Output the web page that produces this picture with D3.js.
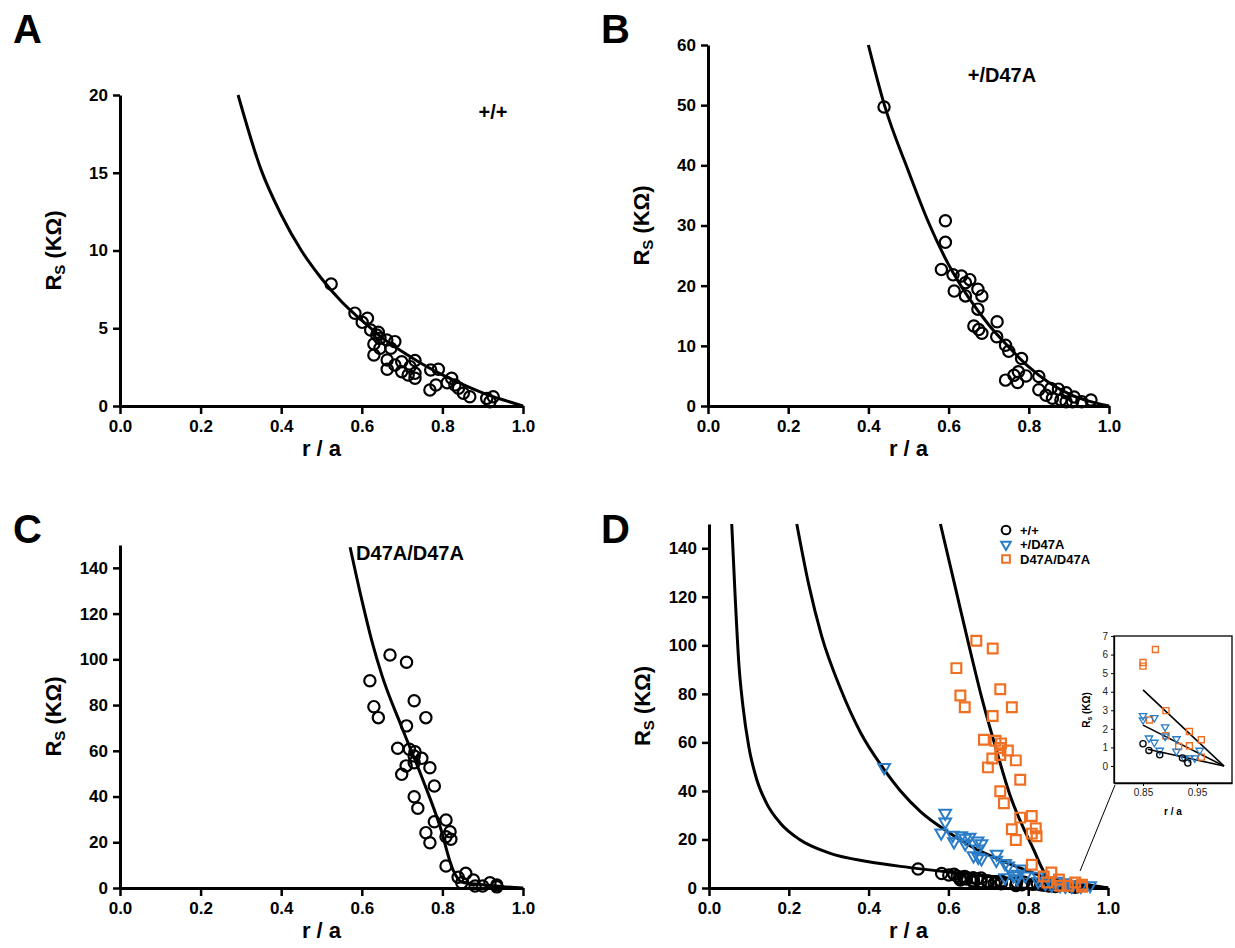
<!DOCTYPE html>
<html>
<head>
<meta charset="utf-8">
<script src="https://cdn.jsdelivr.net/npm/d3@7"></script>
<style>
  body { margin: 0; background: #fff; }
  svg text { font-family: "Liberation Sans", Arial, sans-serif; }
</style>
</head>
<body>
<script>
(function () {
  'use strict';

  // ---- data ----
  const genotypes = ['+/+', '+/D47A', 'D47A/D47A'];
  const panelLetters = ['A', 'B', 'C', 'D'];

  const xTicks = [0, 0.2, 0.4, 0.6, 0.8, 1.0];
  const yTicksA = [0, 5, 10, 15, 20];
  const yTicksB = [0, 10, 20, 30, 40, 50, 60];
  const yTicksC = [0, 20, 40, 60, 80, 100, 120, 140];
  const insetXTicks = [0.85, 0.95];
  const insetYTicks = [0, 1, 2, 3, 4, 5, 6, 7];

  // +/+  (r/a, Rs in kOhm)
  const wtPoints = [
    [0.524, 7.85], [0.583, 5.97], [0.614, 5.64], [0.601, 5.38], [0.622, 4.89],
    [0.641, 4.74], [0.637, 4.57], [0.645, 4.35], [0.630, 3.99], [0.662, 4.24],
    [0.682, 4.14], [0.630, 3.28], [0.672, 3.71], [0.645, 3.71], [0.663, 2.96],
    [0.663, 2.36], [0.682, 2.64], [0.699, 2.85], [0.732, 2.92], [0.699, 2.21],
    [0.720, 2.53], [0.715, 1.99], [0.732, 1.78], [0.732, 2.10], [0.771, 2.32],
    [0.790, 2.36], [0.769, 1.03], [0.784, 1.35], [0.823, 1.78], [0.812, 1.50],
    [0.831, 1.35], [0.840, 1.14], [0.852, 0.82], [0.868, 0.60], [0.910, 0.49],
    [0.926, 0.60], [0.918, 0.28]
  ];
  // +/D47A
  const hetPoints = [
    [0.439, 49.7], [0.592, 30.8], [0.592, 27.2], [0.582, 22.7], [0.611, 21.8],
    [0.632, 21.6], [0.653, 21.0], [0.642, 20.5], [0.614, 19.1], [0.673, 19.4],
    [0.683, 18.3], [0.642, 18.3], [0.673, 16.1], [0.721, 14.0], [0.663, 13.3],
    [0.675, 12.7], [0.683, 12.1], [0.720, 11.5], [0.742, 10.1], [0.750, 9.1],
    [0.782, 7.9], [0.742, 4.3], [0.763, 5.1], [0.774, 5.7], [0.772, 3.9],
    [0.793, 5.0], [0.825, 4.9], [0.825, 2.7], [0.843, 1.8], [0.855, 2.9],
    [0.874, 2.8], [0.893, 2.2], [0.859, 1.3], [0.880, 1.0], [0.913, 1.5],
    [0.909, 0.7], [0.932, 0.7], [0.955, 1.0], [0.893, 0.7]
  ];
  // D47A/D47A
  const homPoints = [
    [0.670, 101.9], [0.711, 98.7], [0.620, 90.6], [0.730, 81.9], [0.630, 79.3],
    [0.641, 74.5], [0.759, 74.5], [0.711, 70.9], [0.689, 61.1], [0.718, 60.7],
    [0.732, 59.6], [0.730, 57.7], [0.749, 56.7], [0.710, 53.4], [0.730, 54.8],
    [0.769, 52.6], [0.699, 49.7], [0.780, 44.6], [0.730, 39.9], [0.739, 34.9],
    [0.809, 29.7], [0.780, 29.0], [0.759, 24.2], [0.819, 24.6], [0.809, 22.4],
    [0.821, 21.3], [0.769, 19.8], [0.809, 9.6], [0.839, 4.7], [0.858, 6.4],
    [0.848, 2.3], [0.877, 3.5], [0.900, 0.9], [0.918, 2.3], [0.935, 1.3],
    [0.935, 0.5], [0.881, 0.9]
  ];

  // fitted curves as drawn in A, B, C
  const wtFit = [[0.293, 20], [0.35, 15.2], [0.4, 12.3], [0.45, 10.0], [0.5, 8.2], [0.55, 6.7],
    [0.6, 5.5], [0.65, 4.4], [0.7, 3.5], [0.75, 2.7], [0.8, 2.0], [0.85, 1.4], [0.9, 0.85],
    [0.95, 0.4], [1.0, 0]];
  const hetFit = [[0.4, 60], [0.44, 50], [0.5, 39], [0.55, 30.5], [0.6, 23.5], [0.65, 18],
    [0.7, 13.5], [0.75, 9.8], [0.8, 6.5], [0.85, 3.9], [0.9, 2.0], [0.95, 0.8], [1.0, 0]];
  const homFit = [[0.571, 149], [0.6, 126], [0.625, 108], [0.65, 93], [0.7, 70], [0.75, 48],
    [0.794, 27], [0.826, 8], [0.848, 2.6], [0.9, 1.4], [0.95, 0.6], [1.0, 0]];

  // fitted curves as drawn in D
  const wtFitD = [[0.057, 150], [0.065, 122], [0.075, 92], [0.085, 75], [0.1, 58], [0.12, 44.5],
    [0.144, 35], [0.18, 26.5], [0.227, 20], [0.3, 14.5], [0.4, 10.8], [0.5, 8.5], [0.6, 6.6],
    [0.7, 4.9], [0.8, 3.2], [0.9, 1.5], [1.0, 0]];
  const hetFitD = [[0.22, 150], [0.25, 125], [0.282, 104], [0.33, 82], [0.38, 64], [0.436, 49.5],
    [0.48, 40], [0.53, 31.5], [0.6, 23], [0.67, 16], [0.73, 11.5], [0.8, 7], [0.86, 3.3],
    [0.93, 1.2], [1.0, 0]];
  const homFitD = [[0.58, 150], [0.62, 122], [0.65, 101], [0.685, 77.5], [0.72, 57], [0.756, 37.5],
    [0.79, 24], [0.814, 15.7], [0.835, 8], [0.85, 4.1], [0.9, 2.7], [0.95, 1.3], [1.0, 0]];

  // inset (zoom on r/a > 0.85)
  const insetWt = [[0.85, 1.2], [0.861, 0.84], [0.881, 0.6], [0.923, 0.43], [0.933, 0.16]];
  const insetHet = [[0.85, 2.71], [0.85, 2.48], [0.871, 2.6], [0.861, 1.5], [0.871, 1.27],
    [0.881, 0.84], [0.891, 2.1], [0.891, 1.6], [0.912, 1.46], [0.912, 0.79], [0.936, 0.43],
    [0.946, 0.43], [0.955, 0.84], [0.926, 0.43]];
  const insetHom = [[0.85, 5.57], [0.85, 5.38], [0.873, 6.27], [0.862, 2.48], [0.8925, 2.98],
    [0.8925, 1.63], [0.916, 1.05], [0.936, 1.86], [0.936, 1.09], [0.958, 1.41], [0.958, 0.48]];
  const insetWtFit = [[0.859, 0.9], [1.0, 0]];
  const insetHetFit = [[0.85, 2.2], [1.0, 0]];
  const insetHomFit = [[0.85, 4.1], [1.0, 0]];
  const calloutFrom = [0.93, 7];

  // ---- drawing ----
  const BLUE = '#2a7cc7';
  const ORANGE = '#f07023';
  const FONT = '"Liberation Sans", Arial, sans-serif';

  const svg = d3.select('body')
    .append('svg')
    .attr('width', 1235)
    .attr('height', 948);

  function styleAxis(sel, size) {
    sel.attr('font-family', FONT).attr('font-size', size).attr('font-weight', 'bold');
    sel.select('.domain').attr('stroke', '#000').attr('stroke-width', 3);
    sel.selectAll('.tick line').attr('stroke', '#000').attr('stroke-width', 2.5);
    sel.selectAll('.tick text').attr('fill', '#000');
  }

  function yTitle(g, cx, cy, size, sub) {
    const t = g.append('text')
      .attr('transform', `translate(${cx},${cy}) rotate(-90)`)
      .attr('text-anchor', 'middle')
      .attr('font-size', size)
      .attr('font-weight', 'bold');
    t.append('tspan').text('R');
    t.append('tspan').attr('font-size', size * 0.68).attr('dy', size * 0.2).text(sub);
    t.append('tspan').attr('dy', -size * 0.2).text(' (KΩ)');
  }

  function drawPanel(p) {
    const x = d3.scaleLinear().domain([0, 1]).range(p.xr);
    const y = d3.scaleLinear().domain([0, p.ymax]).range(p.yr);
    const g = svg.append('g');

    g.append('g')
      .attr('transform', `translate(0,${p.yr[0]})`)
      .call(d3.axisBottom(x).tickValues(xTicks).tickFormat(d3.format('.1f'))
        .tickSize(8).tickSizeOuter(0).tickPadding(6))
      .call(s => styleAxis(s, 17));

    g.append('g')
      .attr('transform', `translate(${p.xr[0]},0)`)
      .call(d3.axisLeft(y).tickValues(p.yTicks).tickFormat(d3.format('d'))
        .tickSize(7).tickSizeOuter(0).tickPadding(5))
      .call(s => styleAxis(s, 17));

    g.append('text')
      .attr('x', (p.xr[0] + p.xr[1]) / 2)
      .attr('y', p.yr[0] + 50)
      .attr('text-anchor', 'middle')
      .attr('font-size', 22)
      .attr('font-weight', 'bold')
      .text('r / a');

    yTitle(g, p.xr[0] - 59, (p.yr[0] + p.yr[1]) / 2, 22, 'S');

    g.append('text')
      .attr('x', p.letterX)
      .attr('y', p.letterY)
      .attr('font-size', 40)
      .attr('font-weight', 'bold')
      .text(p.letter);

    const line = d3.line()
      .curve(d3.curveMonotoneX)
      .x(d => x(d[0]))
      .y(d => y(d[1]));

    p.fits.forEach(f => {
      g.append('path')
        .attr('d', line(f))
        .attr('fill', 'none')
        .attr('stroke', '#000')
        .attr('stroke-width', 3);
    });

    return { g, x, y };
  }

  function drawMarkers(g, x, y, pts, kind, sz) {
    const sym = kind === 'circle' ? d3.symbolCircle
      : kind === 'tri' ? d3.symbolTriangle : d3.symbolSquare;
    const col = kind === 'circle' ? '#000' : kind === 'tri' ? BLUE : ORANGE;
    g.append('g').selectAll('path')
      .data(pts)
      .enter()
      .append('path')
      .attr('d', d3.symbol().type(sym).size(sz.size))
      .attr('transform', d => `translate(${x(d[0])},${y(d[1])})${kind === 'tri' ? ' rotate(180)' : ''}`)
      .attr('fill', 'none')
      .attr('stroke', col)
      .attr('stroke-width', sz.stroke);
  }

  const big = { circle: { size: 100, stroke: 2.2 }, tri: { size: 60, stroke: 2 }, sq: { size: 95, stroke: 2.2 } };

  // A
  const A = drawPanel({ letter: panelLetters[0], letterX: 13, letterY: 43,
    xr: [120, 523], yr: [406, 95], ymax: 20, yTicks: yTicksA, fits: [wtFit] });
  drawMarkers(A.g, A.x, A.y, wtPoints, 'circle', big.circle);
  A.g.append('text').attr('x', 493).attr('y', 119).attr('text-anchor', 'middle')
    .attr('font-size', 20).attr('font-weight', 'bold').text(genotypes[0]);

  // B
  const B = drawPanel({ letter: panelLetters[1], letterX: 601, letterY: 43,
    xr: [708, 1109], yr: [406, 45], ymax: 60, yTicks: yTicksB, fits: [hetFit] });
  drawMarkers(B.g, B.x, B.y, hetPoints, 'circle', big.circle);
  B.g.append('text').attr('x', 1002).attr('y', 82).attr('text-anchor', 'middle')
    .attr('font-size', 20).attr('font-weight', 'bold').text(genotypes[1]);

  // C
  const C = drawPanel({ letter: panelLetters[2], letterX: 13, letterY: 543,
    xr: [120, 523], yr: [888, 545], ymax: 150, yTicks: yTicksC, fits: [homFit] });
  drawMarkers(C.g, C.x, C.y, homPoints, 'circle', big.circle);
  C.g.append('text').attr('x', 410).attr('y', 560).attr('text-anchor', 'middle')
    .attr('font-size', 20).attr('font-weight', 'bold').text(genotypes[2]);

  // D
  const D = drawPanel({ letter: panelLetters[3], letterX: 601, letterY: 543,
    xr: [709, 1108], yr: [888, 524], ymax: 150, yTicks: yTicksC, fits: [wtFitD, hetFitD, homFitD] });
  drawMarkers(D.g, D.x, D.y, wtPoints, 'circle', big.circle);
  drawMarkers(D.g, D.x, D.y, hetPoints, 'tri', big.tri);
  drawMarkers(D.g, D.x, D.y, homPoints, 'sq', big.sq);

  // legend
  const leg = D.g.append('g');
  const legKinds = ['circle', 'tri', 'sq'];
  genotypes.forEach((name, i) => {
    const ly = 530 + i * 14.5;
    drawMarkers(leg, d => d, d => d, [[1006, ly]], legKinds[i], { size: i === 1 ? 40 : 60, stroke: 2 });
    leg.append('text').attr('x', 1020).attr('y', ly + 4.5)
      .attr('font-size', 13).attr('font-weight', 'bold').text(name);
  });

  // inset
  const ix = d3.scaleLinear().domain([0.7963, 1.0148]).range([1114, 1232]);
  const iy = d3.scaleLinear().domain([-0.915, 7]).range([783, 636]);
  const ins = svg.append('g');
  ins.append('rect').attr('x', 1114).attr('y', 636).attr('width', 118).attr('height', 147)
    .attr('fill', '#fff').attr('stroke', '#000').attr('stroke-width', 1.3);
  ins.append('g').attr('transform', 'translate(0,783)')
    .call(d3.axisBottom(ix).tickValues(insetXTicks).tickFormat(d3.format('.2f')).tickSize(3).tickSizeOuter(0).tickPadding(3))
    .call(s => {
      s.attr('font-family', FONT).attr('font-size', 10);
      s.select('.domain').attr('stroke-width', 1.3);
      s.selectAll('.tick text').attr('fill', '#222');
    });
  ins.append('g').attr('transform', 'translate(1114,0)')
    .call(d3.axisLeft(iy).tickValues(insetYTicks).tickFormat(d3.format('d')).tickSize(3).tickSizeOuter(0).tickPadding(3))
    .call(s => {
      s.attr('font-family', FONT).attr('font-size', 10);
      s.select('.domain').attr('stroke-width', 1.3);
      s.selectAll('.tick text').attr('fill', '#222');
    });
  const iline = d3.line().x(d => ix(d[0])).y(d => iy(d[1]));
  [insetHomFit, insetHetFit, insetWtFit].forEach(f => {
    ins.append('path').attr('d', iline(f)).attr('fill', 'none')
      .attr('stroke', '#000').attr('stroke-width', 1.6);
  });
  drawMarkers(ins, ix, iy, insetHom, 'sq', { size: 36, stroke: 1.4 });
  drawMarkers(ins, ix, iy, insetHet, 'tri', { size: 24, stroke: 1.3 });
  drawMarkers(ins, ix, iy, insetWt, 'circle', { size: 30, stroke: 1.3 });
  ins.append('text').attr('x', 1173).attr('y', 815).attr('text-anchor', 'middle')
    .attr('font-size', 10).attr('font-weight', 'bold').text('r / a');
  yTitle(ins, 1090, 710, 10, 's');

  // callout line from main plot to inset
  svg.append('line')
    .attr('x1', D.x(calloutFrom[0])).attr('y1', D.y(calloutFrom[1]))
    .attr('x2', 1115).attr('y2', 785)
    .attr('stroke', '#000').attr('stroke-width', 1);
})();
</script>
</body>
</html>
